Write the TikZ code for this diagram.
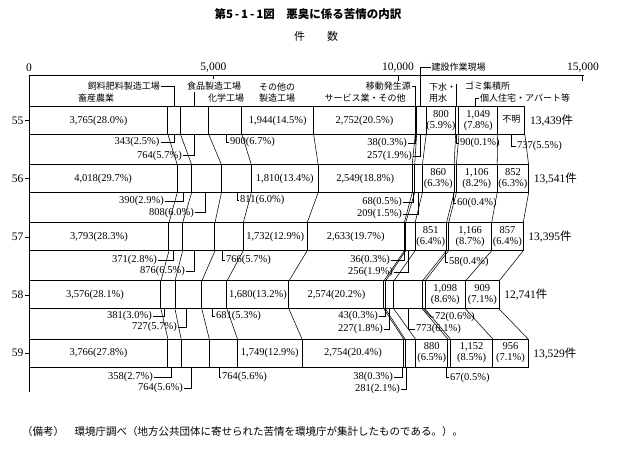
\documentclass[tikz,border=0pt]{standalone}
\usepackage{fontspec}
\setmainfont{Liberation Serif}
\newfontfamily\jp{Noto Sans CJK JP}
\def\s{0.036893}
\def\cA{{3765,4108,4872,5772,7716,10468,10506,10763,11563,11653,12702,13439}}
\def\cB{{4018,4408,5216,6027,7837,10386,10454,10663,11523,11583,12689,13541}}
\def\cC{{3793,4164,5040,5806,7538,10171,10207,10463,11314,11372,12538,13395}}
\def\cD{{3576,3957,4684,5365,7045,9619,9662,9889,10662,10734,11832,12741}}
\def\cE{{3766,4124,4888,5652,7401,10155,10193,10474,11354,11421,12573,13529}}
\def\Ta{106.5}\def\Tb{164.65}\def\Tc{222.8}\def\Td{280.95}\def\Te{339.1}
\tikzset{
  barline/.style={line width=1pt},
  band/.style={line width=0.55pt},
  lead/.style={line width=0.6pt},
  num/.style={inner sep=0pt, font=\fontsize{10.5}{11}\selectfont},
  inl/.style={num, align=center},
  tot/.style={inner sep=0pt, anchor=west, font=\fontsize{11.5}{12}\selectfont},
  yr/.style={inner sep=0pt, anchor=east, font=\fontsize{11.5}{12}\selectfont},
  axl/.style={inner sep=0pt, font=\fontsize{11.5}{12}\selectfont},
  jlab/.style={inner sep=0pt, font=\jp\fontsize{9}{10.5}\selectfont},
}
\newcommand\yearbar[2]{%
  \pgfmathsetmacro\mytot{#1[11]}%
  \draw[barline] (29,#2) rectangle ({29+\s*\mytot},{#2+28});%
  \foreach \k in {0,...,10}{\pgfmathsetmacro\myu{#1[\k]}\draw[barline] ({29+\s*\myu},#2) -- ({29+\s*\myu},{#2+28});}%
}
\newcommand\bands[3]{%
  \foreach \k in {0,...,11}{\pgfmathsetmacro\myu{#1[\k]}\pgfmathsetmacro\myv{#2[\k]}\draw[band] ({29+\s*\myu},{#3+28}) -- ({29+\s*\myv},{#3+58.15});}%
}
\newcommand\inlab[5]{\node[inl] (#1) at ({29+\s*#2/2+\s*#3/2},{#4+14}) {#5};}
\newcommand\rlab[6]{\node[num,anchor=east] (#1) at (#2,#3) {#6};
  \draw[lead] ([xshift=1pt]#1.east) -| (#4,#5);}
\newcommand\clab[6]{\node[num,anchor=west] (#1) at (#2,#3) {#6};
  \draw[lead] (#4,#5) |- ([xshift=-1pt]#1.west);}
\begin{document}
\begin{tikzpicture}[x=1pt,y=-1pt]
\useasboundingbox (0,0) rectangle (617,449);
% title
\node[inner sep=0pt, font=\jp\bfseries\fontsize{11.5}{12}\selectfont] (title) at (308,14) {第5\,-\,1\,-\,1図　悪臭に係る苦情の内訳};
\node[inner sep=0pt, font=\jp\fontsize{11}{12}\selectfont] (ken) at (316,36) {件　　数};
% axis
\draw[line width=1.4pt] (29,75.5) -- (583.5,75.5);
\draw[barline] (29,75.5) -- (29,392);
\draw[lead] (213.4,75.5) -- (213.4,79.5);
\draw[lead] (397.9,75.5) -- (397.9,81);
\draw[lead] (582.4,75.5) -- (582.4,81);
\node[axl] (a0) at (29,68) {0};
\node[axl] (a1) at (213.4,68) {5,000};
\node[axl] (a2) at (398,68) {10,000};
\node[axl] (a3) at (583,68) {15,000};
% header labels
\node[jlab,anchor=east] (h1) at (160,86) {飼料肥料製造工場};
\draw[lead] ([xshift=1pt]h1.east) -| (174,\Ta);
\node[jlab] (h2) at (96,98.5) {畜産農業};
\node[jlab] (h3) at (214,86.5) {食品製造工場};
\draw[lead] (194.3,92.5) -- (194.3,\Ta);
\node[jlab] (h4) at (226,98.5) {化学工場};
\node[jlab,align=center] (h5) at (277,92.5) {その他の\\製造工場};
\node[jlab] (h6) at (365,98.5) {サービス業・その他};
\node[jlab,anchor=east] (h7) at (411,86.5) {移動発生源};
\draw[lead] ([xshift=1pt]h7.east) -| (415,\Ta);
\node[jlab,anchor=west] (h8) at (431.5,67.5) {建設作業現場};
\draw[lead] ([xshift=-1pt]h8.west) -| (420.5,\Ta);
\node[jlab,align=left,anchor=west] (h9) at (429,92.5) {下水・\\用水};
\node[jlab,anchor=west] (h10) at (465,86.5) {ゴミ集積所};
\draw[lead] (456.5,84) -- (456.5,\Ta);
\node[jlab,anchor=west] (h11) at (480,98) {個人住宅・アパート等};
\draw[lead] ([xshift=-1pt]h11.west) -| (475,\Ta);
% bars
\yearbar{\cA}{\Ta}
\yearbar{\cB}{\Tb}
\yearbar{\cC}{\Tc}
\yearbar{\cD}{\Td}
\yearbar{\cE}{\Te}
\bands{\cA}{\cB}{\Ta}
\bands{\cB}{\cC}{\Tb}
\bands{\cC}{\cD}{\Tc}
\bands{\cD}{\cE}{\Td}
% year labels
\foreach \t/\y/\n in {\Ta/55/ya,\Tb/56/yb,\Tc/57/yc,\Td/58/yd,\Te/59/ye}{
  \node[yr] (\n) at (23.5,{\t+14}) {\y};
  \draw[lead] (24.5,{\t+14}) -- (29,{\t+14});
}
% inside labels 55
\inlab{i55a}{0}{3765}{\Ta}{3,765(28.0\%)}
\inlab{i55b}{5772}{7716}{\Ta}{1,944(14.5\%)}
\inlab{i55c}{7716}{10468}{\Ta}{2,752(20.5\%)}
\inlab{i55d}{10763}{11563}{\Ta}{800\\(5.9\%)}
\inlab{i55e}{11653}{12702}{\Ta}{1,049\\(7.8\%)}
\node[jlab] (i55f) at ({29+\s*12702/2+\s*13439/2},{\Ta+13}) {不明};
\node[tot] (t55) at ({29+\s*13439+5},{\Ta+14}) {13,439{\jp 件}};
% 56
\inlab{i56a}{0}{4018}{\Tb}{4,018(29.7\%)}
\inlab{i56b}{6027}{7837}{\Tb}{1,810(13.4\%)}
\inlab{i56c}{7837}{10386}{\Tb}{2,549(18.8\%)}
\inlab{i56d}{10663}{11523}{\Tb}{860\\(6.3\%)}
\inlab{i56e}{11583}{12689}{\Tb}{1,106\\(8.2\%)}
\inlab{i56f}{12689}{13541}{\Tb}{852\\(6.3\%)}
\node[tot] (t56) at ({29+\s*13541+5},{\Tb+14}) {13,541{\jp 件}};
% 57
\inlab{i57a}{0}{3793}{\Tc}{3,793(28.3\%)}
\inlab{i57b}{5806}{7538}{\Tc}{1,732(12.9\%)}
\inlab{i57c}{7538}{10171}{\Tc}{2,633(19.7\%)}
\inlab{i57d}{10463}{11314}{\Tc}{851\\(6.4\%)}
\inlab{i57e}{11372}{12538}{\Tc}{1,166\\(8.7\%)}
\inlab{i57f}{12538}{13395}{\Tc}{857\\(6.4\%)}
\node[tot] (t57) at ({29+\s*13395+5},{\Tc+14}) {13,395{\jp 件}};
% 58
\inlab{i58a}{0}{3576}{\Td}{3,576(28.1\%)}
\inlab{i58b}{5365}{7045}{\Td}{1,680(13.2\%)}
\inlab{i58c}{7045}{9619}{\Td}{2,574(20.2\%)}
\inlab{i58e}{10734}{11832}{\Td}{1,098\\(8.6\%)}
\inlab{i58f}{11832}{12741}{\Td}{909\\(7.1\%)}
\node[tot] (t58) at ({29+\s*12741+5},{\Td+14}) {12,741{\jp 件}};
% 59
\inlab{i59a}{0}{3766}{\Te}{3,766(27.8\%)}
\inlab{i59b}{5652}{7401}{\Te}{1,749(12.9\%)}
\inlab{i59c}{7401}{10155}{\Te}{2,754(20.4\%)}
\inlab{i59d}{10474}{11354}{\Te}{880\\(6.5\%)}
\inlab{i59e}{11421}{12573}{\Te}{1,152\\(8.5\%)}
\inlab{i59f}{12573}{13529}{\Te}{956\\(7.1\%)}
\node[tot] (t59) at ({29+\s*13529+5},{\Te+14}) {13,529{\jp 件}};
% below labels gap 1
\rlab{b1a}{159.5}{142}{174}{134.5}{343(2.5\%)}
\rlab{b1b}{182}{155.5}{194}{134.5}{764(5.7\%)}
\clab{b1c}{230}{142}{226}{134.5}{900(6.7\%)}
\rlab{b1d}{407}{143}{415}{134.5}{38(0.3\%)}
\rlab{b1e}{412}{156}{420.5}{134.5}{257(1.9\%)}
\clab{b1f}{460}{143}{456}{134.5}{90(0.1\%)}
\clab{b1g}{517}{146}{511}{134.5}{737(5.5\%)}
% gap 2
\rlab{b2a}{164}{201}{183}{192.65}{390(2.9\%)}
\rlab{b2b}{194}{212.5}{205}{192.65}{808(6.0\%)}
\clab{b2c}{240}{200}{237}{192.65}{811(6.0\%)}
\rlab{b2d}{402}{202}{413.5}{192.65}{68(0.5\%)}
\rlab{b2e}{402}{214}{418.5}{192.65}{209(1.5\%)}
\clab{b2f}{457}{203}{453}{192.65}{60(0.4\%)}
% gap 3
\rlab{b3a}{157}{260}{173}{250.8}{371(2.8\%)}
\rlab{b3b}{185}{271}{194}{250.8}{876(6.5\%)}
\clab{b3c}{226}{260}{222}{250.8}{766(5.7\%)}
\rlab{b3d}{390}{260}{404}{250.8}{36(0.3\%)}
\rlab{b3e}{393}{272}{408}{250.8}{256(1.9\%)}
\clab{b3f}{449}{262}{445}{250.8}{58(0.4\%)}
% gap 4
\rlab{b4a}{152}{316}{164}{308.95}{381(3.0\%)}
\rlab{b4b}{177}{327}{186}{308.95}{727(5.7\%)}
\clab{b4c}{216}{316}{212}{308.95}{681(5.3\%)}
\rlab{b4d}{378}{316}{385}{308.95}{43(0.3\%)}
\rlab{b4e}{383}{329}{389.5}{308.95}{227(1.8\%)}
\clab{b4f}{416}{329}{408}{308.95}{773(6.1\%)}
\node[num,anchor=west] (b4g) at (435,317) {72(0.6\%)};
\draw[lead] (423.7,308.95) -- (431,317) -- ([xshift=-1pt]b4g.west);
% gap 5
\rlab{b5a}{153}{377}{171}{367.1}{358(2.7\%)}
\rlab{b5b}{183}{388}{191}{367.1}{764(5.6\%)}
\clab{b5c}{222}{377}{219}{367.1}{764(5.6\%)}
\rlab{b5d}{393}{377}{402}{367.1}{38(0.3\%)}
\rlab{b5e}{400}{389}{406}{367.1}{281(2.1\%)}
\clab{b5f}{450}{377.5}{446}{367.1}{67(0.5\%)}
% note
\node[inner sep=0pt, anchor=west, font=\jp\fontsize{10.5}{12}\selectfont] (note) at (22,431.5) {（備考）　環境庁調べ（地方公共団体に寄せられた苦情を環境庁が集計したものである。）。};
\end{tikzpicture}
\end{document}
